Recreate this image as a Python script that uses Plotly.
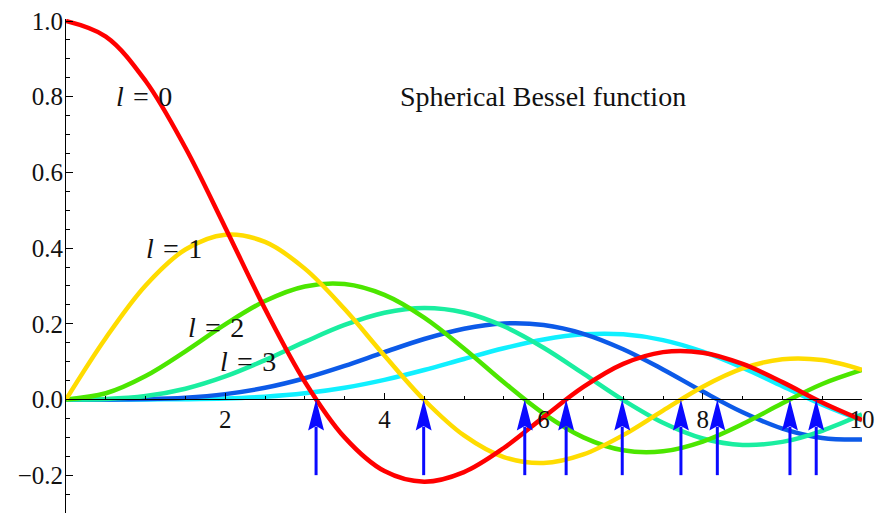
import plotly.graph_objects as go

# sample points along x
x_vals = [0.0, 0.5, 1.0, 1.5, 2.0, 2.5, 3.0, 3.5, 4.0, 4.5, 5.0,
          5.5, 6.0, 6.5, 7.0, 7.5, 8.0, 8.5, 9.0, 9.5, 10.0]

# spherical Bessel functions j_l(x), l = 0..5
j0 = [1.0, 0.9589, 0.8415, 0.6650, 0.4546, 0.2394, 0.0470, -0.1002, -0.1892, -0.2172, -0.1918,
      -0.1283, -0.0466, 0.0331, 0.0939, 0.1251, 0.1237, 0.0939, 0.0458, -0.0079, -0.0544]
j1 = [0.0, 0.1625, 0.3012, 0.3962, 0.4354, 0.4162, 0.3457, 0.2389, 0.1161, -0.0014, -0.0951,
      -0.1522, -0.1678, -0.1452, -0.0943, -0.0295, 0.0336, 0.0819, 0.1063, 0.1041, 0.0785]
j2 = [0.0, 0.0164, 0.0620, 0.1273, 0.1984, 0.2601, 0.2986, 0.3050, 0.2763, 0.2163, 0.1347,
      0.0453, -0.0373, -0.1001, -0.1343, -0.1369, -0.1111, -0.0650, -0.0103, 0.0408, 0.0779]
j3 = [0.0, 0.0012, 0.0090, 0.0283, 0.0607, 0.1039, 0.1521, 0.1968, 0.2292, 0.2417, 0.2298,
      0.1933, 0.1367, 0.0682, -0.0016, -0.0617, -0.1031, -0.1201, -0.1121, -0.0827, -0.0395]
j4 = [0.0, 0.0001, 0.0010, 0.0048, 0.0141, 0.0309, 0.0561, 0.0886, 0.1249, 0.1598, 0.1870,
      0.2008, 0.1968, 0.1735, 0.1327, 0.0793, 0.0209, -0.0339, -0.0768, -0.1017, -0.1056]
j5 = [0.0, 0.0000, 0.0001, 0.0007, 0.0026, 0.0074, 0.0164, 0.0310, 0.0518, 0.0778, 0.1068,
      0.1352, 0.1585, 0.1721, 0.1722, 0.1569, 0.1265, 0.0842, 0.0353, -0.0137, -0.0555]

series = [j0, j1, j2, j3, j4, j5]
colors = ["#ff0000", "#ffdc00", "#4ce600", "#1aeea0", "#0c5ae8", "#10f0ff"]

# zeros of j_l marked with arrows
zeros = [3.1416, 4.4934, 5.7635, 6.2832, 6.9879, 7.7253, 8.1826, 9.0950, 9.4248]

x_ticks = [2, 4, 6, 8, 10]
y_ticks = [-0.2, 0.0, 0.2, 0.4, 0.6, 0.8, 1.0]

SP = "\u2004"
curve_labels = [f"<i>l</i>{SP}={SP}{n}" for n in range(4)]
label_x = [0.98, 1.36, 1.88, 2.29]
label_y = [0.80, 0.40, 0.19, 0.10]

title_text = "Spherical Bessel function"

FONT = "Liberation Serif"
Y_MIN, Y_MAX = -0.3, 1.0053

fig = go.Figure()

# higher orders first so the low orders sit on top
for l in reversed(range(len(series))):
    fig.add_trace(go.Scatter(
        x=x_vals, y=series[l], mode="lines",
        line=dict(color=colors[l], width=4.5, shape="spline", smoothing=1.0),
        hoverinfo="skip", showlegend=False,
    ))

# arrows pointing up at each zero
shapes = []
head_h = 0.082
head_w = 0.10
for z in zeros:
    shapes.append(dict(type="line", xref="x", yref="y",
                       x0=z, x1=z, y0=-0.2, y1=-head_h + 0.01,
                       line=dict(color="#0a0aff", width=3), layer="above"))
    path = (f"M {z},0 L {z - head_w},{-head_h} L {z},{-head_h + 0.012} "
            f"L {z + head_w},{-head_h} Z")
    shapes.append(dict(type="path", xref="x", yref="y", path=path,
                       fillcolor="#0a0aff", line=dict(width=0), layer="above"))

annotations = []
for txt, lx, ly in zip(curve_labels, label_x, label_y):
    annotations.append(dict(x=lx, y=ly, xref="x", yref="y", text=txt,
                            showarrow=False, xanchor="center", yanchor="middle",
                            font=dict(family=FONT, size=28, color="#111111")))
annotations.append(dict(x=5.99, y=0.80, xref="x", yref="y", text=title_text,
                        showarrow=False, xanchor="center", yanchor="middle",
                        font=dict(family=FONT, size=28, color="#111111")))

fig.update_layout(
    width=875, height=514,
    margin=dict(l=66, r=13, t=19, b=1),
    paper_bgcolor="white", plot_bgcolor="white",
    shapes=shapes, annotations=annotations,
    showlegend=False, hovermode=False,
    xaxis=dict(
        range=[0, 10], anchor="free", position=(0 - Y_MIN) / (Y_MAX - Y_MIN),
        showgrid=False, zeroline=False, showline=True, linecolor="black", linewidth=1,
        tickvals=x_ticks, ticks="inside", ticklen=6, tickwidth=1, tickcolor="black",
        minor=dict(dtick=0.5, tick0=0, ticks="inside", ticklen=3.5, tickcolor="black", showgrid=False),
        tickfont=dict(family=FONT, size=25, color="#111111"),
        ticklabelstandoff=-2,
    ),
    yaxis=dict(
        range=[Y_MIN, Y_MAX],
        showgrid=False, zeroline=False, showline=True, linecolor="black", linewidth=1,
        tickvals=y_ticks, tickformat=".1f", ticks="inside", ticklen=7, tickwidth=1, tickcolor="black",
        minor=dict(dtick=0.05, tick0=0, ticks="inside", ticklen=4, tickcolor="black", showgrid=False),
        tickfont=dict(family=FONT, size=25, color="#111111"),
        ticklabelstandoff=-3,
    ),
)

fig.write_html("out.html", config={"displayModeBar": False})
